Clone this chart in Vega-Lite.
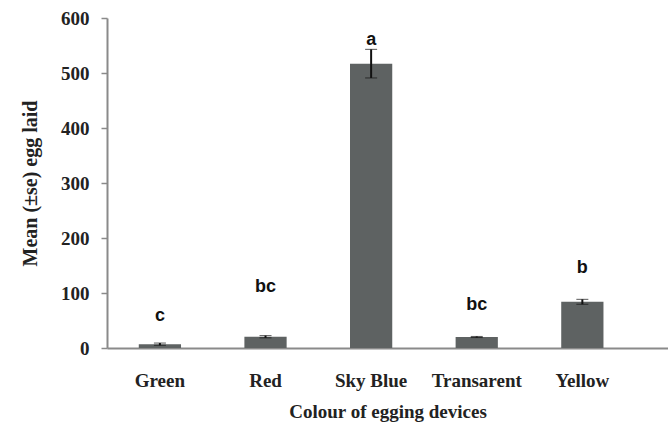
{
  "$schema": "https://vega.github.io/schema/vega-lite/v6.json",
  "autosize": {"type": "none"},
  "padding": {"left": 107, "top": 18, "right": 0, "bottom": 90},
  "width": 561,
  "height": 330,
  "background": "white",
  "config": {
    "view": {"stroke": null},
    "axisY": {
      "grid": false,
      "labelFont": "Liberation Serif", "labelFontWeight": "bold", "labelFontSize": 19, "labelColor": "#222",
      "labelPadding": 12,
      "tickSize": 6, "tickColor": "#8a8a8a", "tickWidth": 1.5,
      "domainColor": "#8a8a8a", "domainWidth": 2,
      "titleFont": "Liberation Serif", "titleFontWeight": "bold", "titleFontSize": 20, "titleColor": "#222",
      "titlePadding": 20
    }
  },
  "data": {"values": [
    {"device": "Green", "mean": 7, "se": 2, "letter": "c", "letter_y": 58},
    {"device": "Red", "mean": 20.5, "se": 2, "letter": "bc", "letter_y": 111},
    {"device": "Sky Blue", "mean": 517, "se": 26, "letter": "a", "letter_y": 560},
    {"device": "Transarent", "mean": 20, "se": 1, "letter": "bc", "letter_y": 78},
    {"device": "Yellow", "mean": 84, "se": 4.5, "letter": "b", "letter_y": 145}
  ]},
  "encoding": {
    "x": {
      "field": "device", "type": "nominal", "sort": null,
      "scale": {"paddingInner": 0.6, "paddingOuter": 0.456, "align": 0.33},
      "axis": {
        "title": "Colour of egging devices",
        "labelAngle": 0,
        "labelFont": "Liberation Serif", "labelFontWeight": "bold", "labelFontSize": 19, "labelColor": "#222",
        "labelPadding": 23,
        "titleFont": "Liberation Serif", "titleFontWeight": "bold", "titleFontSize": 19, "titleColor": "#222",
        "titlePadding": 12,
        "ticks": false,
        "domainColor": "#8a8a8a", "domainWidth": 2
      }
    }
  },
  "layer": [
    {
      "mark": {"type": "bar", "color": "#5e6262"},
      "encoding": {
        "y": {
          "field": "mean", "type": "quantitative",
          "title": "Mean (±se) egg laid",
          "scale": {"domain": [0, 600]},
          "axis": {"values": [0, 100, 200, 300, 400, 500, 600]}
        }
      }
    },
    {
      "transform": [
        {"calculate": "datum.mean - datum.se", "as": "lo"},
        {"calculate": "datum.mean + datum.se", "as": "hi"}
      ],
      "mark": {"type": "errorbar", "ticks": {"size": 12, "color": "#111", "strokeWidth": 2.5}, "rule": {"color": "#111", "strokeWidth": 2}},
      "encoding": {
        "y": {"field": "lo", "type": "quantitative", "title": "Mean (±se) egg laid"},
        "y2": {"field": "hi"}
      }
    },
    {
      "mark": {"type": "text", "font": "Liberation Sans", "fontWeight": "bold", "fontSize": 18, "color": "#111", "baseline": "middle"},
      "encoding": {
        "y": {"field": "letter_y", "type": "quantitative", "title": "Mean (±se) egg laid"},
        "text": {"field": "letter"}
      }
    }
  ]
}
